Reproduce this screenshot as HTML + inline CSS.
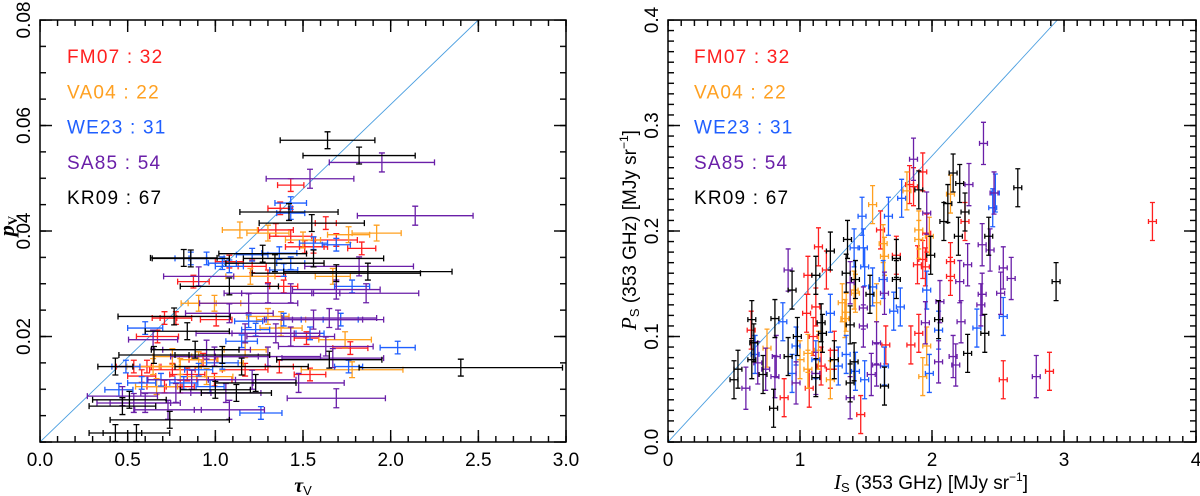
<!DOCTYPE html>
<html><head><meta charset="utf-8"><style>
html,body{margin:0;padding:0;background:#fff;}
svg{display:block;font-family:"Liberation Sans",sans-serif;}
</style></head><body>
<svg id="chart" width="1200" height="496" viewBox="0 0 1200 496" xmlns="http://www.w3.org/2000/svg"></svg>
<script>
const seriesNames=["FM07","VA04","WE23","SA85","KR09"];
const seriesCounts=[32,22,31,54,67];
const seriesColors=["#ff1f1f","#ffa020","#1f5fff","#6a1fa8","#000000"];
const leftXTicks=["0.0","0.5","1.0","1.5","2.0","2.5","3.0"];
const leftYTicks=["0.02","0.04","0.06","0.08"];
const rightXTicks=["0","1","2","3","4"];
const rightYTicks=["0.0","0.1","0.2","0.3","0.4"];
const leftFM07=[[1.43,0.0487,0.075],[1.37,0.0443,0.07],[1.63,0.0415,0.06],[1.345,0.0402,0.1],[1.43,0.039,0.12],[1.69,0.0383,0.12],[1.51,0.037,0.11],[1.835,0.0367,0.08],[1.08,0.0342,0.08],[0.875,0.0304,0.09],[0.775,0.0235,0.09],[0.71,0.0235,0.07],[1.005,0.0232,0.09],[0.67,0.02,0.12],[1.52,0.0197,0.07],[1.77,0.0178,0.1],[1.365,0.0143,0.08],[1.54,0.0128,0.09],[0.535,0.0143,0.1],[0.755,0.0137,0.13],[0.84,0.0128,0.1],[0.71,0.0105,0.1],[0.61,0.0143,0.08],[0.93,0.0156,0.08],[1.17,0.0137,0.13],[1.3,0.0314,0.1],[1.21,0.0333,0.08],[1.39,0.0295,0.08],[1.56,0.037,0.08],[0.58,0.0125,0.08],[0.8,0.0105,0.08],[0.995,0.0118,0.1]];
const leftVA04=[[1.14,0.0402,0.1],[1.92,0.0396,0.14],[1.76,0.0393,0.12],[1.67,0.0314,0.1],[1.5,0.0383,0.1],[1.2,0.0314,0.14],[0.995,0.0263,0.15],[1.375,0.0232,0.14],[1.74,0.0194,0.15],[1.78,0.0137,0.29],[0.755,0.0162,0.11],[0.905,0.0156,0.11],[0.95,0.0124,0.15],[0.645,0.0143,0.15],[0.8,0.0143,0.12],[0.665,0.0105,0.12],[1.3,0.0238,0.12],[1.375,0.0216,0.12],[1.3,0.0396,0.12],[1.04,0.015,0.12],[0.905,0.0263,0.1],[1.17,0.0175,0.12]];
const leftWE23=[[1.43,0.0453,0.09],[1.43,0.0434,0.08],[0.86,0.0348,0.09],[0.95,0.0348,0.1],[1.21,0.0355,0.09],[1.365,0.0358,0.1],[1.78,0.0295,0.1],[1.69,0.0374,0.08],[2.04,0.0179,0.1],[1.15,0.0191,0.09],[0.6,0.0216,0.1],[1.26,0.0055,0.12],[0.45,0.0099,0.08],[1.04,0.015,0.09],[1.39,0.0232,0.1],[1.715,0.0232,0.1],[1.76,0.0143,0.08],[0.69,0.0118,0.08],[1.54,0.0206,0.08],[1.19,0.0229,0.08],[1.43,0.0339,0.08],[1.04,0.0339,0.08],[0.82,0.0112,0.08],[0.97,0.0105,0.08],[1.23,0.0213,0.08],[1.08,0.0333,0.08],[1.39,0.0326,0.08],[0.49,0.0143,0.08],[0.58,0.0112,0.08],[0.905,0.0137,0.08],[1.56,0.0377,0.08]];
const leftSA85=[[1.95,0.053,0.3],[1.54,0.0499,0.25],[2.14,0.0429,0.33],[1.86,0.0282,0.3],[1.65,0.0235,0.27],[1.7,0.0232,0.26],[1.69,0.0083,0.28],[1.08,0.0061,0.2],[1.67,0.0159,0.29],[1.3,0.0162,0.3],[0.95,0.0175,0.25],[1.19,0.0263,0.28],[1.43,0.0282,0.28],[1.56,0.0232,0.28],[1.475,0.0112,0.26],[1.17,0.0206,0.28],[0.905,0.0314,0.2],[0.73,0.0061,0.19],[0.535,0.0074,0.21],[0.645,0.0194,0.14],[0.47,0.0087,0.2],[0.865,0.0118,0.25],[1.3,0.0282,0.25],[1.82,0.0333,0.31],[1.08,0.0244,0.25],[0.995,0.0162,0.25],[1.345,0.0206,0.25],[1.63,0.0181,0.27],[0.775,0.0093,0.2],[0.6,0.0074,0.2],[1.21,0.0118,0.25],[1.43,0.02,0.25],[1.69,0.0289,0.25],[1.06,0.0093,0.2]];
const leftKR09=[[1.64,0.0572,0.27],[1.82,0.0543,0.32],[2.4,0.0141,0.58],[1.42,0.0436,0.28],[0.82,0.0349,0.19],[0.86,0.0348,0.22],[1.55,0.0415,0.3],[1.04,0.0165,0.27],[0.885,0.0175,0.25],[0.74,0.0042,0.34],[0.43,0.0017,0.15],[0.55,0.0017,0.19],[1.65,0.0156,0.3],[1.15,0.0143,0.38],[1.23,0.0112,0.23],[1.12,0.0093,0.2],[1.0,0.0099,0.2],[1.87,0.0323,0.48],[1.69,0.032,0.48],[1.08,0.0295,0.28],[0.84,0.021,0.24],[0.765,0.0238,0.32],[0.51,0.008,0.21],[0.47,0.0068,0.19],[0.43,0.0143,0.1],[0.65,0.0165,0.2],[1.34,0.0339,0.28],[1.56,0.0348,0.4],[1.27,0.0357,0.25]];
const rightFM07=[[3.67,0.209],[2.89,0.067],[2.54,0.059],[1.46,0.026],[0.88,0.042],[0.63,0.106],[1.07,0.051],[1.06,0.158],[1.14,0.185],[1.93,0.256],[1.83,0.244],[1.61,0.201],[1.65,0.092],[1.84,0.092],[1.9,0.103],[2.14,0.171],[2.14,0.157],[2.25,0.209],[1.89,0.168],[1.96,0.198],[1.73,0.177],[1.2,0.163],[1.12,0.128],[1.05,0.122],[1.1,0.1],[1.23,0.069],[1.16,0.072],[1.93,0.173],[1.86,0.242],[1.95,0.166],[1.26,0.087]];
const rightVA04=[[1.55,0.225],[1.32,0.132],[1.41,0.144],[1.34,0.117],[1.58,0.132],[1.64,0.176],[2.14,0.235],[1.9,0.201],[1.98,0.195],[1.93,0.062],[1.96,0.091],[1.23,0.059],[1.14,0.087],[1.06,0.069],[0.75,0.089],[1.06,0.084],[1.63,0.188],[1.42,0.141],[1.35,0.123],[1.81,0.238],[1.9,0.192],[1.0,0.078]];
const rightWE23=[[1.47,0.214],[1.41,0.184],[1.48,0.184],[1.67,0.214],[1.77,0.231],[2.46,0.222],[2.48,0.236],[2.54,0.119],[2.34,0.108],[2.05,0.106],[1.98,0.065],[1.76,0.128],[1.71,0.124],[1.23,0.122],[0.87,0.114],[0.97,0.091],[0.94,0.065],[1.49,0.059],[1.42,0.067],[1.64,0.072],[1.35,0.083],[1.55,0.147],[1.63,0.154],[0.66,0.083],[1.29,0.072],[1.96,0.144],[1.49,0.166],[1.12,0.078]];
const rightSA85=[[2.39,0.283],[1.86,0.268],[2.28,0.244],[2.47,0.236],[2.38,0.187],[2.44,0.182],[2.54,0.165],[2.6,0.155],[2.52,0.141],[2.38,0.14],[2.37,0.13],[2.27,0.168],[2.21,0.152],[2.22,0.114],[2.16,0.081],[2.18,0.073],[2.05,0.076],[2.06,0.133],[1.95,0.113],[1.96,0.217],[2.79,0.062],[1.38,0.042],[1.48,0.11],[1.48,0.127],[1.58,0.094],[1.58,0.073],[1.54,0.064],[0.91,0.163],[0.59,0.051],[0.68,0.075],[0.74,0.069],[0.82,0.081],[0.81,0.062],[0.97,0.056],[1.64,0.141],[1.38,0.151],[1.12,0.065]];
const rightKR09=[[2.65,0.241],[2.94,0.152],[2.27,0.084],[2.43,0.195],[2.2,0.195],[2.16,0.255],[2.21,0.245],[2.12,0.226],[2.09,0.209],[2.25,0.218],[1.99,0.177],[1.9,0.239],[1.73,0.174],[1.73,0.154],[1.64,0.053],[1.36,0.192],[1.23,0.181],[1.12,0.158],[1.35,0.16],[1.42,0.154],[1.53,0.14],[1.38,0.111],[1.16,0.113],[1.26,0.078],[1.38,0.056],[1.41,0.076],[0.94,0.144],[0.81,0.117],[0.98,0.1],[0.91,0.081],[0.635,0.116],[0.65,0.094],[0.635,0.078],[0.5,0.059],[0.53,0.069],[0.72,0.064],[0.8,0.032],[1.12,0.061],[2.05,0.116],[1.17,0.103],[2.4,0.103]];
const leftYErr=[0.0012,0.0015,0.0012,0.0018,0.0016];
const rightYErr=[0.018,0.018,0.018,0.02,0.018];
const rightXErr=0.03;
const leftLineEnd=[2.5,0.08];
const rightLineEnd=[2.95,0.4];

const NS="http://www.w3.org/2000/svg";
const svg=document.getElementById('chart');
function mk(tag,attrs,parent){const e=document.createElementNS(NS,tag);for(const k in attrs)e.setAttribute(k,attrs[k]);(parent||svg).appendChild(e);return e;}

function panel(cfg){
  const x0=cfg.x0,xr=cfg.xr,y0=cfg.y0,yb=cfg.yb,xmin=cfg.xmin,xmax=cfg.xmax,ymin=cfg.ymin,ymax=cfg.ymax,name=cfg.name;
  const sx=v=>x0+(v-xmin)/(xmax-xmin)*(xr-x0);
  const sy=v=>yb-(v-ymin)/(ymax-ymin)*(yb-y0);
  const g=mk('g',{});
  
  
  const clipId=name+'clip';
  const cp=mk('clipPath',{id:clipId},g);mk('rect',{x:x0,y:y0,width:xr-x0,height:yb-y0},cp);
  const data=mk('g',{'clip-path':'url(#'+clipId+')'},g);
  
  
  const ln=mk('line',{x1:sx(0),y1:sy(0),x2:sx(cfg.lineEnd[0]),y2:sy(cfg.lineEnd[1]),stroke:'#4a9ee0','stroke-width':0.9},data);
  
  
  cfg.series.forEach((arr,si)=>{
    const col=seriesColors[si];
    arr.forEach(p=>{
      const xe=cfg.left?p[2]:rightXErr, ye=cfg.left?leftYErr[si]:rightYErr[si];
      const cx=sx(p[0]),cy=sy(p[1]);
      const xa=sx(p[0]-xe),xbb=sx(p[0]+xe),ya=sy(p[1]+ye),ybb=sy(p[1]-ye);
      const cap=cfg.left?3:2.5;
      const d=`M${xa},${cy}H${xbb}M${xa},${cy-cap}V${cy+cap}M${xbb},${cy-cap}V${cy+cap}M${cx},${ya}V${ybb}M${cx-cap},${ya}H${cx+cap}M${cx-cap},${ybb}H${cx+cap}`;
      const pe=mk('path',{d:d,stroke:col,'stroke-width':1.3,fill:'none'},data);
      
      
    });
  });
  const fr=mk('rect',{x:x0,y:y0,width:xr-x0,height:yb-y0,fill:'none',stroke:'#000','stroke-width':1.5},g);
  
  
  cfg.xticks.forEach((lab,i)=>{
    const v=cfg.xtickVals[i];
    const te=mk('text',{x:sx(v),y:466,'font-size':19,'text-anchor':'middle',fill:'#000'},g);te.textContent=lab;
    
    
  });
  cfg.yticks.forEach((lab,i)=>{
    const v=cfg.ytickVals[i];const X=x0-10,Y=sy(v);
    const te=mk('text',{x:X,y:Y,'font-size':19,'text-anchor':'middle',fill:'#000',transform:`rotate(-90 ${X} ${Y})`},g);te.textContent=lab;
    
    
  });
  seriesNames.forEach((n,i)=>{
    const te=mk('text',{x:cfg.legX,y:63+i*35.3,'font-size':19,fill:seriesColors[i],'letter-spacing':'1.2'},g);
    te.textContent=n+' : '+seriesCounts[i];
    
    
  });
}
panel({name:'left',left:true,x0:40,xr:566,y0:20,yb:442,xmin:0,xmax:3,ymin:0,ymax:0.08,
  xticks:leftXTicks,xtickVals:[0,0.5,1,1.5,2,2.5,3],yticks:leftYTicks,ytickVals:[0.02,0.04,0.06,0.08],legX:67,lineEnd:leftLineEnd,
  series:[leftFM07,leftVA04,leftWE23,leftSA85,leftKR09]});
panel({name:'right',left:false,x0:668,xr:1196,y0:20,yb:442,xmin:0,xmax:4,ymin:0,ymax:0.4,
  xticks:rightXTicks,xtickVals:[0,1,2,3,4],yticks:rightYTicks,ytickVals:[0,0.1,0.2,0.3,0.4],legX:694,lineEnd:rightLineEnd,
  series:[rightFM07,rightVA04,rightWE23,rightSA85,rightKR09]});
</script>
<svg style="position:absolute;left:0;top:0" width="1200" height="496">
<defs>
<pattern id="lxm" patternUnits="userSpaceOnUse" x="39.3" y="0" width="17.5333" height="20"><rect x="0" y="0" width="1.4" height="20" fill="#000"/></pattern>
<pattern id="lxM" patternUnits="userSpaceOnUse" x="39.3" y="0" width="87.6667" height="20"><rect x="0" y="0" width="1.4" height="20" fill="#000"/></pattern>
<pattern id="lym" patternUnits="userSpaceOnUse" x="0" y="19.3" width="20" height="26.375"><rect x="0" y="0" width="20" height="1.4" fill="#000"/></pattern>
<pattern id="lyM" patternUnits="userSpaceOnUse" x="0" y="19.3" width="20" height="105.5"><rect x="0" y="0" width="20" height="1.4" fill="#000"/></pattern>
<pattern id="rxm" patternUnits="userSpaceOnUse" x="667.3" y="0" width="13.2" height="20"><rect x="0" y="0" width="1.4" height="20" fill="#000"/></pattern>
<pattern id="rxM" patternUnits="userSpaceOnUse" x="667.3" y="0" width="132" height="20"><rect x="0" y="0" width="1.4" height="20" fill="#000"/></pattern>
<pattern id="rym" patternUnits="userSpaceOnUse" x="0" y="19.3" width="20" height="10.55"><rect x="0" y="0" width="20" height="1.4" fill="#000"/></pattern>
<pattern id="ryM" patternUnits="userSpaceOnUse" x="0" y="19.3" width="20" height="105.5"><rect x="0" y="0" width="20" height="1.4" fill="#000"/></pattern>
</defs>
<g>
<rect x="39.3" y="436" width="528" height="6" fill="url(#lxm)"/>
<rect x="39.3" y="430" width="528" height="12" fill="url(#lxM)"/>
<rect x="39.3" y="20" width="528" height="6" fill="url(#lxm)"/>
<rect x="39.3" y="20" width="528" height="12" fill="url(#lxM)"/>
<rect x="40" y="19.3" width="6" height="424" fill="url(#lym)"/>
<rect x="40" y="19.3" width="12" height="424" fill="url(#lyM)"/>
<rect x="560" y="19.3" width="6" height="424" fill="url(#lym)"/>
<rect x="554" y="19.3" width="12" height="424" fill="url(#lyM)"/>
</g>
<g>
<rect x="667.3" y="436" width="530" height="6" fill="url(#rxm)"/>
<rect x="667.3" y="430" width="530" height="12" fill="url(#rxM)"/>
<rect x="667.3" y="20" width="530" height="6" fill="url(#rxm)"/>
<rect x="667.3" y="20" width="530" height="12" fill="url(#rxM)"/>
<rect x="668" y="19.3" width="6" height="424" fill="url(#rym)"/>
<rect x="668" y="19.3" width="12" height="424" fill="url(#ryM)"/>
<rect x="1190" y="19.3" width="6" height="424" fill="url(#rym)"/>
<rect x="1184" y="19.3" width="12" height="424" fill="url(#ryM)"/>
</g>
<text x="303" y="492" font-size="20" text-anchor="middle" font-family="Liberation Serif,serif" font-style="italic" font-weight="bold">τ<tspan font-size="13" dy="3" font-style="normal" font-weight="normal" font-family="Liberation Sans,sans-serif">V</tspan></text>
<text x="14" y="226" font-size="22" text-anchor="middle" font-family="Liberation Serif,serif" font-style="italic" font-weight="bold" transform="rotate(-90 14 226)">p<tspan font-size="13" dy="3" font-style="normal">V</tspan></text>
<text x="931" y="489" font-size="19" text-anchor="middle" font-family="Liberation Sans,sans-serif"><tspan font-family="Liberation Serif,serif" font-style="italic" font-size="21">I</tspan><tspan font-size="13" dy="3">S</tspan><tspan dy="-3"> (353 GHz) [MJy sr</tspan><tspan font-size="12" dy="-8">−1</tspan><tspan dy="8">]</tspan></text>
<text x="636" y="230" font-size="19" text-anchor="middle" font-family="Liberation Sans,sans-serif" transform="rotate(-90 636 230)"><tspan font-family="Liberation Serif,serif" font-style="italic" font-size="21">P</tspan><tspan font-size="13" dy="3">S</tspan><tspan dy="-3"> (353 GHz) [MJy sr</tspan><tspan font-size="12" dy="-8">−1</tspan><tspan dy="8">]</tspan></text>
</svg>
</body></html>
